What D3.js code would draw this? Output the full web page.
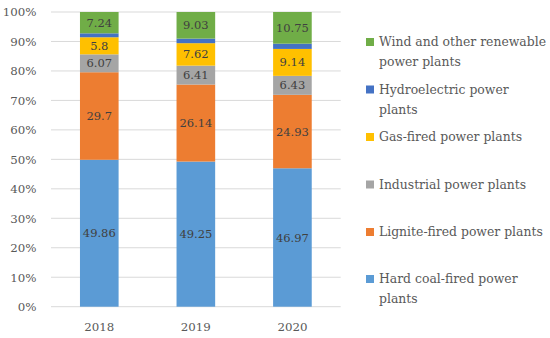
<!DOCTYPE html>
<html><head><meta charset="utf-8">
<script src="https://cdn.jsdelivr.net/npm/d3@7"></script>
<style>body{margin:0;background:#fff}svg{display:block}</style>
</head><body><svg id="c" width="550" height="338"></svg>
<script>
const years = ["2018", "2019", "2020"];
const seriesNames = ["Hard coal-fired power plants", "Lignite-fired power plants", "Industrial power plants", "Gas-fired power plants", "Hydroelectric power plants", "Wind and other renewable power plants"];
const legendLines = [["Hard coal-fired power", "plants"], ["Lignite-fired power plants"], ["Industrial power plants"], ["Gas-fired power plants"], ["Hydroelectric power", "plants"], ["Wind and other renewable", "power plants"]];
const colors = ["#5B9BD5", "#ED7D31", "#A5A5A5", "#FFC000", "#4472C4", "#70AD47"];
const hardCoal = [49.86, 49.25, 46.97];
const lignite = [29.7, 26.14, 24.93];
const industrial = [6.07, 6.41, 6.43];
const gas = [5.8, 7.62, 9.14];
const hydro = [1.33, 1.55, 1.78];
const wind = [7.24, 9.03, 10.75];
const showLabel = [true, true, true, true, false, true];
const yTicks = [0, 0.1, 0.2, 0.3, 0.4, 0.5, 0.6, 0.7, 0.8, 0.9, 1];

const seriesVals = [hardCoal, lignite, industrial, gas, hydro, wind];
const rows = years.map((y, i) => {
  const o = {year: y};
  seriesNames.forEach((s, j) => o[s] = seriesVals[j][i]);
  return o;
});
const stack = d3.stack().keys(seriesNames).offset(d3.stackOffsetExpand);
const stacked = stack(rows);

const svg = d3.select("#c");
const font = "DejaVu Serif";
const x = d3.scaleBand().domain(years).range([51, 340.7]).paddingInner(0.6).paddingOuter(0.3);
const y = d3.scaleLinear().domain([0, 1]).range([306.7, 12]);

svg.append("g").selectAll("line").data(yTicks).join("line")
  .attr("x1", 51).attr("x2", 340.7)
  .attr("y1", d => y(d)).attr("y2", d => y(d))
  .attr("stroke", "#D9D9D9").attr("stroke-width", 1);

const yAxis = d3.axisLeft(y).tickValues(yTicks).tickFormat(d3.format(".0%")).tickSize(0).tickPadding(0);
const ga = svg.append("g").attr("transform", "translate(36.5,0)").call(yAxis);
ga.select(".domain").remove();
ga.selectAll("text").style("font-family", font).style("font-size", "11.8px").attr("fill", "#595959");

const xAxis = d3.axisBottom(x).tickSize(0).tickPadding(0);
const gx = svg.append("g").attr("transform", "translate(0,321)").call(xAxis);
gx.select(".domain").remove();
gx.selectAll("text").style("font-family", font).style("font-size", "11.8px").attr("fill", "#595959").attr("dy", "0.35em").attr("y", 6);

const layers = svg.append("g").selectAll("g").data(stacked).join("g").attr("fill", (d, i) => colors[i]);
layers.selectAll("rect").data(d => d).join("rect")
  .attr("x", d => x(d.data.year)).attr("width", x.bandwidth())
  .attr("y", d => y(d[1])).attr("height", d => y(d[0]) - y(d[1]));

const lab = svg.append("g");
stacked.forEach((layer, i) => {
  if (!showLabel[i]) return;
  layer.forEach((d, k) => {
    lab.append("text")
      .attr("x", x(d.data.year) + x.bandwidth() / 2)
      .attr("y", (y(d[0]) + y(d[1])) / 2)
      .attr("dy", "0.35em").attr("text-anchor", "middle")
      .style("font-family", font).style("font-size", "11.5px").attr("fill", "#404040")
      .text(seriesVals[i][k]);
  });
});

const legendY = [279, 232, 184.5, 137, 89.5, 42];
const lg = svg.append("g");
seriesNames.forEach((s, i) => {
  const g = lg.append("g").attr("transform", `translate(366,${legendY[i]})`);
  g.append("rect").attr("x", 0).attr("y", -4).attr("width", 8).attr("height", 8).attr("fill", colors[i]);
  const t = g.append("text").style("font-family", font).style("font-size", "12.4px").attr("fill", "#595959");
  legendLines[i].forEach((ln, j) => {
    t.append("tspan").attr("x", 13).attr("y", j * 20).attr("dy", "0.35em").text(ln);
  });
});
</script></body></html>
